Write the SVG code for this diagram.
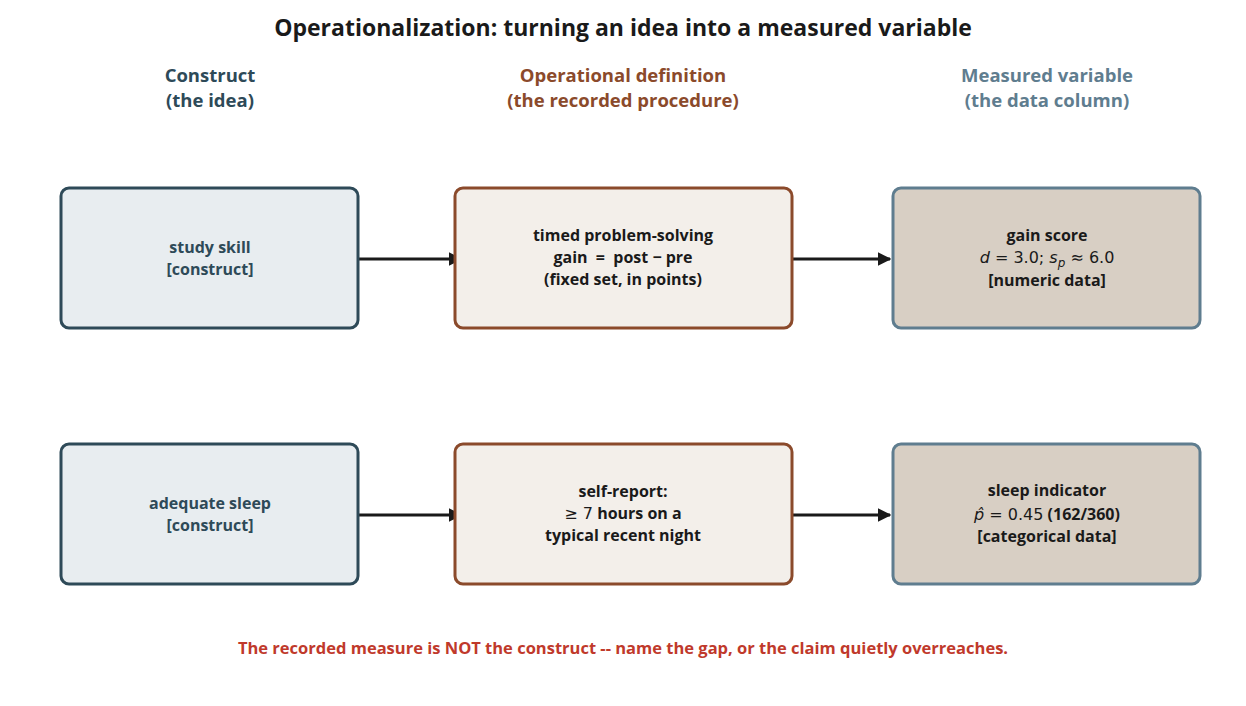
<svg xmlns="http://www.w3.org/2000/svg" width="1246" height="706" viewBox="0 0 1246 706">
<style>
text{font-family:"Open Sans","Noto Sans","DejaVu Sans",sans-serif;text-anchor:middle;font-weight:bold}
.c{fill:#e8edf0;stroke:#2e4a58;stroke-width:3}
.o{fill:#f3efea;stroke:#8b4a2b;stroke-width:3}
.m{fill:#d8cfc4;stroke:#5f7d8f;stroke-width:3}
.ct{font-size:16px;fill:#2e4a58}
.bt{font-size:16px;fill:#1a1a1a}
.math{font-weight:normal;font-family:"DejaVu Sans",sans-serif}
.e{stroke:#1a1a1a;stroke-width:3;fill:none;marker-end:url(#a)}
</style>
<defs><marker id="a" viewBox="0 0 10 10" refX="9" refY="5" markerWidth="4.5" markerHeight="4.5" orient="auto"><path d="M0,0L10,5L0,10z" fill="#1a1a1a"/></marker></defs>
<rect width="1246" height="706" fill="#fff"/>
<text x="623" y="36" font-size="23" fill="#1a1a1a">Operationalization: turning an idea into a measured variable</text>
<text x="210" y="82" font-size="18.5" fill="#2e4a58">Construct</text>
<text x="210" y="107" font-size="18.5" fill="#2e4a58">(the idea)</text>
<text x="623" y="82" font-size="18.5" fill="#8b4a2b">Operational definition</text>
<text x="623" y="107" font-size="18.5" fill="#8b4a2b">(the recorded procedure)</text>
<text x="1047" y="82" font-size="18.5" fill="#5f7d8f">Measured variable</text>
<text x="1047" y="107" font-size="18.5" fill="#5f7d8f">(the data column)</text>
<g id="edges">
<path class="e" d="M359,259H461"/><path class="e" d="M792,259H890"/>
<path class="e" d="M359,515H461"/><path class="e" d="M792,515H890"/>
</g>
<g id="n1"><rect class="c" x="61" y="188" width="297" height="140" rx="8"/><text class="ct" x="210" y="253">study skill</text><text class="ct" x="210" y="275">[construct]</text></g>
<g id="n2"><rect class="o" x="455" y="188" width="337" height="140" rx="8"/><text class="bt" x="623" y="241">timed problem-solving</text><text class="bt" x="623" y="263" xml:space="preserve">gain  =  post − pre</text><text class="bt" x="623" y="285">(fixed set, in points)</text></g>
<g id="n3"><rect class="m" x="893" y="188" width="307" height="140" rx="8"/><text class="bt" x="1047" y="241">gain score</text><text class="bt math" x="1047" y="263"><tspan font-style="italic">d</tspan> = 3.0; <tspan font-style="italic">s</tspan><tspan font-style="italic" font-size="12" dy="4">p</tspan><tspan dy="-4"> ≈ 6.0</tspan></text><text class="bt" x="1047" y="286">[numeric data]</text></g>
<g id="n4"><rect class="c" x="61" y="444" width="297" height="140" rx="8"/><text class="ct" x="210" y="509">adequate sleep</text><text class="ct" x="210" y="531">[construct]</text></g>
<g id="n5"><rect class="o" x="455" y="444" width="337" height="140" rx="8"/><text class="bt" x="623" y="497">self-report:</text><text class="bt" x="623" y="519"><tspan class="math">≥ 7</tspan> hours on a</text><text class="bt" x="623" y="541">typical recent night</text></g>
<g id="n6"><rect class="m" x="893" y="444" width="307" height="140" rx="8"/><text class="bt" x="1047" y="496">sleep indicator</text><text class="bt" x="1047" y="520"><tspan class="math"><tspan font-style="italic">p̂</tspan> = 0.45</tspan> (162/360)</text><text class="bt" x="1047" y="542">[categorical data]</text></g>
<text x="623" y="654" font-size="16.5" fill="#c0392b">The recorded measure is NOT the construct -- name the gap, or the claim quietly overreaches.</text>
</svg>
